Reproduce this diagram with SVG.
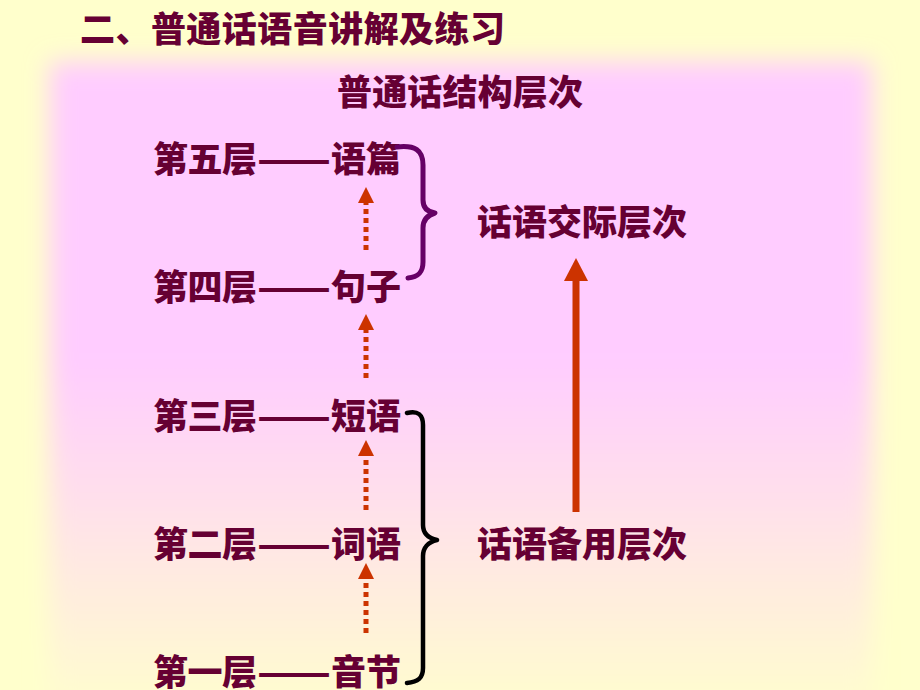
<svg xmlns="http://www.w3.org/2000/svg" width="920" height="690" viewBox="0 0 920 690">
<defs>
<style>
.t{font-family:"Noto Sans CJK SC","Noto Sans CJK TC",sans-serif;font-weight:900;font-size:35px;fill:#660033}
.dot{stroke:#CC3300;stroke-width:5;stroke-dasharray:5 4;fill:none}
.big{stroke:#CC3300;stroke-width:7;fill:none}
.brace{fill:none;stroke-linecap:round;stroke-linejoin:round}
</style>
<linearGradient id="bgGrad" x1="0" y1="0" x2="0" y2="1">
<stop offset="0" stop-color="#FFCCFF"/>
<stop offset="0.45" stop-color="#FFCCFF"/>
<stop offset="1" stop-color="#FFFFCC"/>
</linearGradient>
<filter id="blur" x="-10%" y="-10%" width="120%" height="120%">
<feGaussianBlur stdDeviation="12"/>
</filter>
<marker id="headS" markerUnits="userSpaceOnUse" markerWidth="16" markerHeight="16" refX="0" refY="8" orient="auto">
<path d="M0,0 L16,8 L0,16 Z" fill="#CC3300"/>
</marker>
<marker id="headL" markerUnits="userSpaceOnUse" markerWidth="24" markerHeight="24" refX="0" refY="12" orient="auto">
<path d="M0,0 L23,12 L0,24 Z" fill="#CC3300"/>
</marker>
</defs>
<rect x="0" y="0" width="920" height="690" fill="#FFFFCC"/>
<rect x="50" y="62" width="822" height="660" fill="url(#bgGrad)" filter="url(#blur)"/>

<g id="title"><text class="t" x="80" y="42" textLength="425" lengthAdjust="spacing">二、普通话语音讲解及练习</text></g>
<g id="subtitle"><text class="t" x="337" y="105" textLength="246" lengthAdjust="spacing">普通话结构层次</text></g>

<g id="level5"><text class="t" x="153" y="172" textLength="104" lengthAdjust="spacing">第五层</text><text class="t" x="257" y="172" textLength="74" lengthAdjust="spacingAndGlyphs">——</text><text class="t" x="331" y="172" textLength="70" lengthAdjust="spacing">语篇</text></g>
<g id="level4"><text class="t" x="153" y="300" textLength="104" lengthAdjust="spacing">第四层</text><text class="t" x="257" y="300" textLength="74" lengthAdjust="spacingAndGlyphs">——</text><text class="t" x="331" y="300" textLength="70" lengthAdjust="spacing">句子</text></g>
<g id="level3"><text class="t" x="153" y="429" textLength="104" lengthAdjust="spacing">第三层</text><text class="t" x="257" y="429" textLength="74" lengthAdjust="spacingAndGlyphs">——</text><text class="t" x="331" y="429" textLength="70" lengthAdjust="spacing">短语</text></g>
<g id="level2"><text class="t" x="153" y="557" textLength="104" lengthAdjust="spacing">第二层</text><text class="t" x="257" y="557" textLength="74" lengthAdjust="spacingAndGlyphs">——</text><text class="t" x="331" y="557" textLength="70" lengthAdjust="spacing">词语</text></g>
<g id="level1"><text class="t" x="153" y="685" textLength="104" lengthAdjust="spacing">第一层</text><text class="t" x="257" y="685" textLength="74" lengthAdjust="spacingAndGlyphs">——</text><text class="t" x="331" y="685" textLength="70" lengthAdjust="spacing">音节</text></g>

<g id="communication"><text class="t" x="477" y="235" textLength="210" lengthAdjust="spacing">话语交际层次</text></g>
<g id="reserve"><text class="t" x="477" y="557" textLength="210" lengthAdjust="spacing">话语备用层次</text></g>

<g id="connectors">
<line class="dot" x1="366" y1="250" x2="366" y2="203" marker-end="url(#headS)"/>
<line class="dot" x1="366" y1="378" x2="366" y2="330" marker-end="url(#headS)"/>
<line class="dot" x1="366" y1="510" x2="366" y2="456" marker-end="url(#headS)"/>
<line class="dot" x1="366" y1="633" x2="366" y2="579" marker-end="url(#headS)"/>
<line class="big" x1="576" y1="512" x2="576" y2="281" marker-end="url(#headL)"/>
<path class="brace" stroke="#660066" stroke-width="5" d="M397,147 C415,145 423,150 423,165 L423,200 C423,208 428,212 435,213 C428,215 423,219 423,228 L423,262 C423,273 418,277 408,278"/>
<path class="brace" stroke="#000000" stroke-width="4.5" d="M407,413 C418,410 423,415 423,425 L423,525 C423,533 428,538 437,540 C428,542 423,548 423,556 L423,668 C423,678 418,682 407,683"/>
</g>
</svg>
